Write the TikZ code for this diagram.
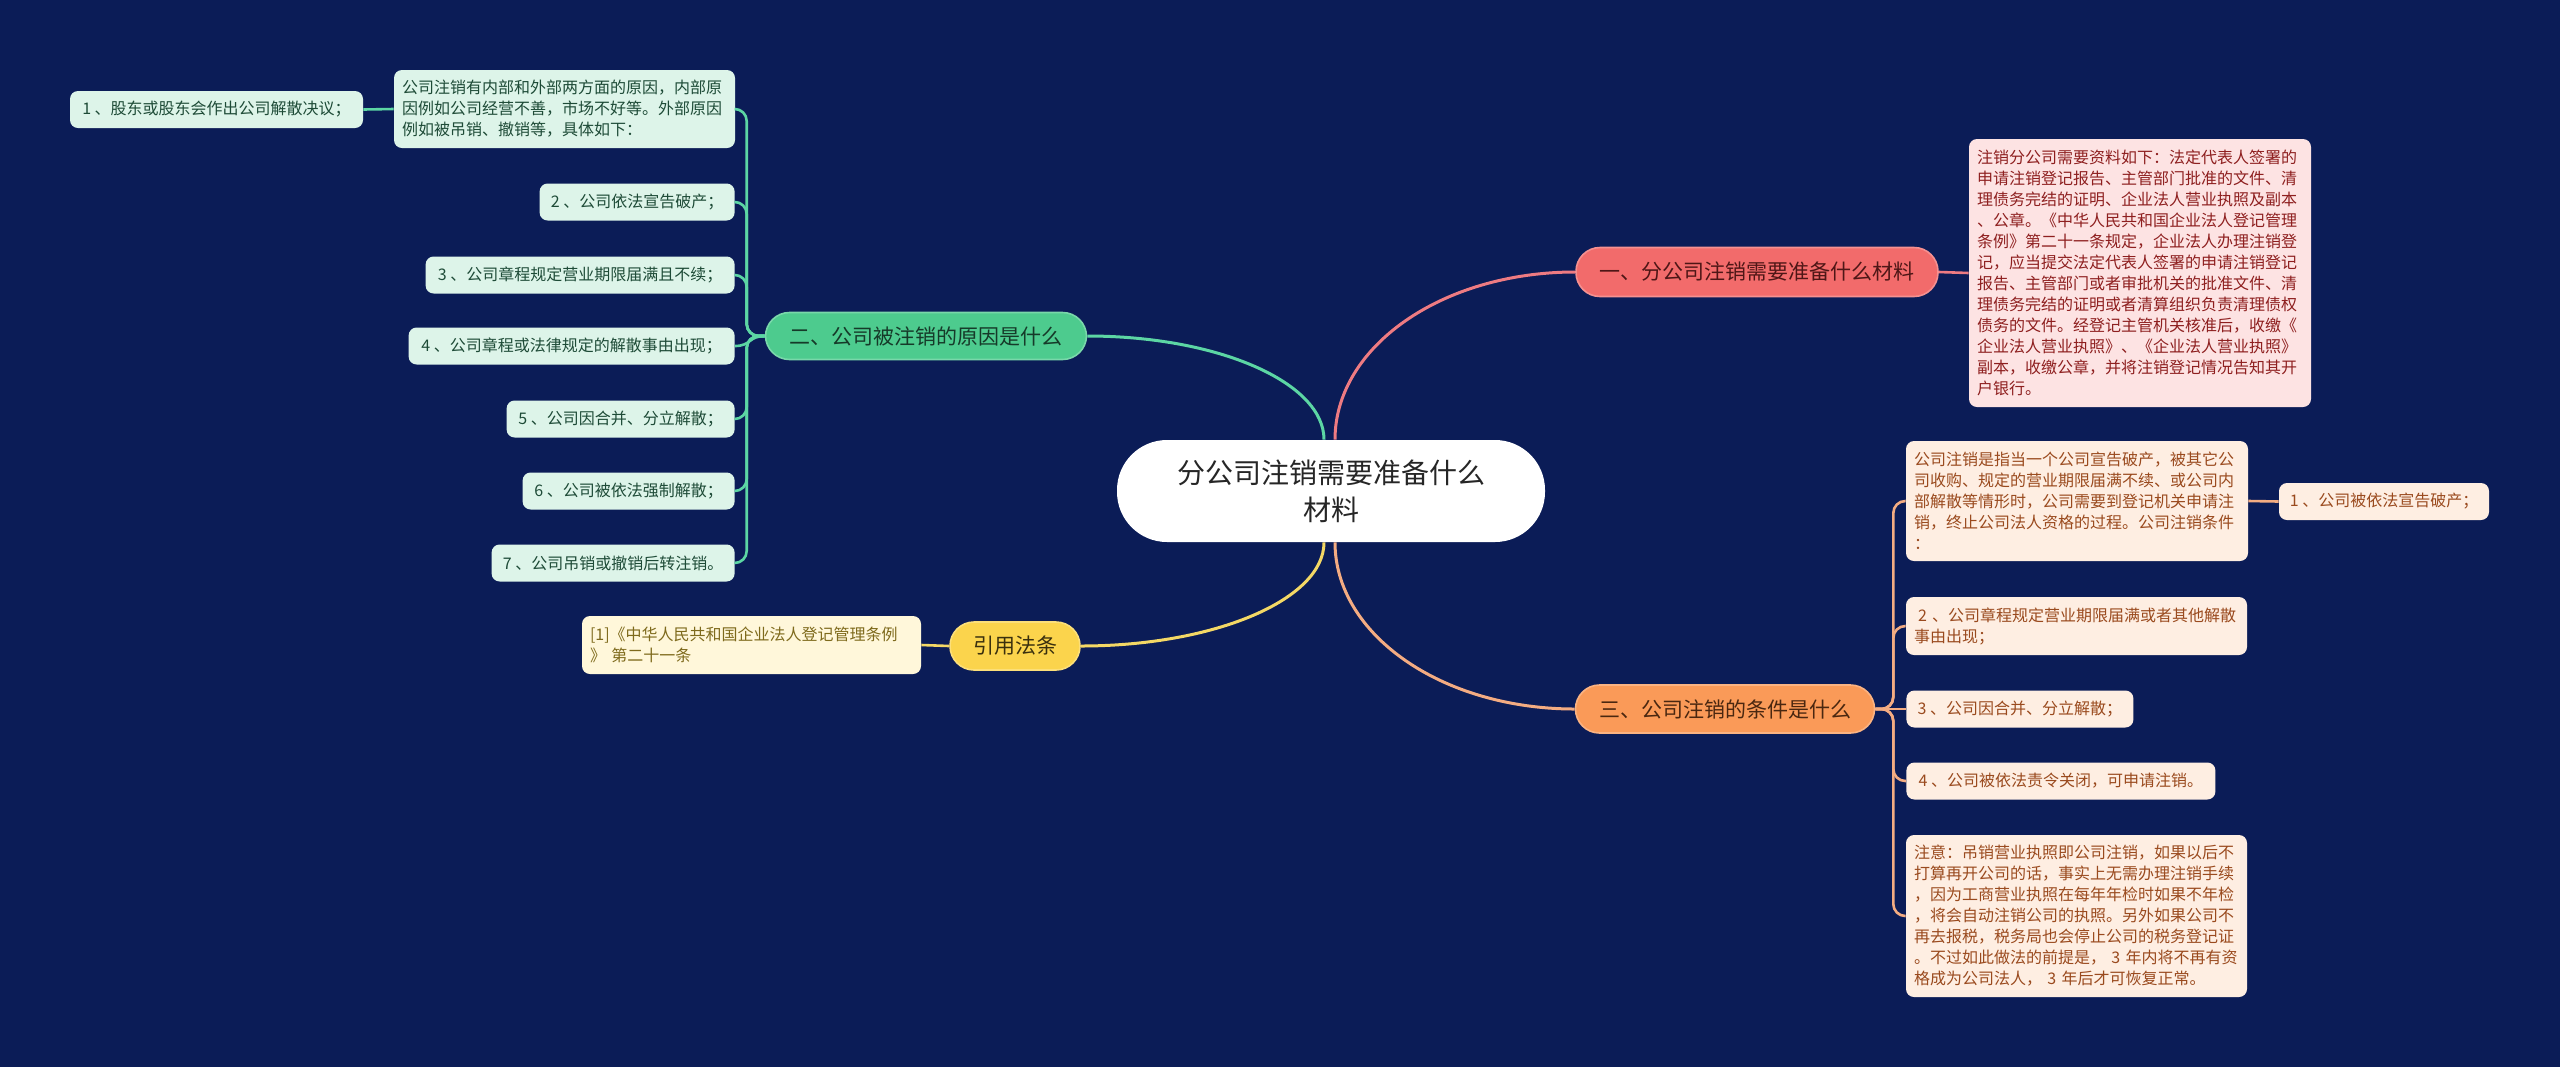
\documentclass[tikz,border=0pt]{standalone}
\usepackage{fontspec}
\setmainfont{Noto Sans CJK SC}
\usetikzlibrary{calc}
\definecolor{bg}{HTML}{0B1C57}
\definecolor{redfill}{HTML}{F26B6B}
\definecolor{redline}{HTML}{EE7B82}
\definecolor{redtext}{HTML}{4E1616}
\definecolor{redleaf}{HTML}{FDE3E3}
\definecolor{redleaftext}{HTML}{8E1F1F}
\definecolor{greenfill}{HTML}{4DCB8E}
\definecolor{greenline}{HTML}{5CD6A4}
\definecolor{greentext}{HTML}{163A29}
\definecolor{greenleaf}{HTML}{DDF4E9}
\definecolor{greenleaftext}{HTML}{1E4B37}
\definecolor{orfill}{HTML}{FA9A58}
\definecolor{orline}{HTML}{F4AC82}
\definecolor{ortext}{HTML}{4A2710}
\definecolor{orleaf}{HTML}{FEEEE2}
\definecolor{orleaftext}{HTML}{9A4A1E}
\definecolor{yfill}{HTML}{FBD44C}
\definecolor{yline}{HTML}{F4D865}
\definecolor{ytext}{HTML}{3A300E}
\definecolor{yleaf}{HTML}{FFF7DA}
\definecolor{yleaftext}{HTML}{7E6A1C}
\begin{document}
\begin{tikzpicture}[x=0.5pt,y=-0.5pt,
  branchbox/.style={rounded corners=12pt, inner sep=0pt, align=center, font=\fontsize{10.5}{13}\selectfont, line width=0.8pt},
  leafbox/.style={rounded corners=4pt, inner xsep=4pt, inner ysep=0pt, align=left, font=\fontsize{8}{10.5}\selectfont},
  oneline/.style={leafbox, align=center, minimum height=18.5pt},
  mainline/.style={line width=1.5pt},
  subline/.style={line width=1.3pt, rounded corners=6pt},
]
\fill[bg] (0,0) rectangle (2560,1067);
\useasboundingbox (0,0) rectangle (2560,1067);

% center
\node[fill=white, rounded corners=25pt, minimum width=214pt, minimum height=51pt, inner sep=0pt, align=center, font=\fontsize{14}{18.5}\selectfont, text=black!85] (c) at (1331,491) {分公司注销需要准备什么\\材料};

% branches
\node[branchbox, fill=redfill, draw=redfill!75!white, text=redtext, minimum width=181pt, minimum height=24.5pt] (b1) at (1757,272) {一、分公司注销需要准备什么材料};
\node[branchbox, fill=greenfill, draw=greenfill!75!white, text=greentext, minimum width=160.5pt, minimum height=23.5pt] (b2) at (926,336) {二、公司被注销的原因是什么};
\node[branchbox, fill=orfill, draw=orfill!75!white, text=ortext, minimum width=149.5pt, minimum height=24pt] (b3) at (1725,709) {三、公司注销的条件是什么};
\node[branchbox, fill=yfill, draw=yfill!75!white, text=ytext, minimum width=65pt, minimum height=24pt] (b4) at (1015,646) {引用法条};

% red leaf
\node[leafbox, fill=redleaf, text=redleaftext, text width=163pt, minimum height=134pt] (r1) at (2140,273) {注销分公司需要资料如下：法定代表人签署的\\申请注销登记报告、主管部门批准的文件、清\\理债务完结的证明、企业法人营业执照及副本\\、公章。《中华人民共和国企业法人登记管理\\条例》第二十一条规定，企业法人办理注销登\\记，应当提交法定代表人签署的申请注销登记\\报告、主管部门或者审批机关的批准文件、清\\理债务完结的证明或者清算组织负责清理债权\\债务的文件。经登记主管机关核准后，收缴《\\企业法人营业执照》、《企业法人营业执照》\\副本，收缴公章，并将注销登记情况告知其开\\户银行。};

% green leaves
\node[leafbox, fill=greenleaf, text=greenleaftext, text width=162.5pt, minimum height=39pt] (g0) at (564.5,109) {公司注销有内部和外部两方面的原因，内部原\\因例如公司经营不善，市场不好等。外部原因\\例如被吊销、撤销等，具体如下：};
\node[oneline, fill=greenleaf, text=greenleaftext, minimum width=146.5pt] (g1) at (216.5,109.5) {1 、股东或股东会作出公司解散决议；};
\node[oneline, fill=greenleaf, text=greenleaftext, minimum width=97.5pt, anchor=east] (g2) at (735,202) {2 、公司依法宣告破产；};
\node[oneline, fill=greenleaf, text=greenleaftext, minimum width=154.5pt, anchor=east] (g3) at (735,275) {3 、公司章程规定营业期限届满且不续；};
\node[oneline, fill=greenleaf, text=greenleaftext, minimum width=163pt, anchor=east] (g4) at (735,346) {4 、公司章程或法律规定的解散事由出现；};
\node[oneline, fill=greenleaf, text=greenleaftext, minimum width=114pt, anchor=east] (g5) at (735,419) {5 、公司因合并、分立解散；};
\node[oneline, fill=greenleaf, text=greenleaftext, minimum width=106pt, anchor=east] (g6) at (735,491) {6 、公司被依法强制解散；};
\node[oneline, fill=greenleaf, text=greenleaftext, minimum width=121.5pt, anchor=east] (g7) at (735,563) {7 、公司吊销或撤销后转注销。};

% orange leaves
\node[leafbox, fill=orleaf, text=orleaftext, text width=163pt, minimum height=60pt] (o0) at (2077,501) {公司注销是指当一个公司宣告破产，被其它公\\司收购、规定的营业期限届满不续、或公司内\\部解散等情形时，公司需要到登记机关申请注\\销，终止公司法人资格的过程。公司注销条件\\：};
\node[oneline, fill=orleaf, text=orleaftext, minimum width=105pt] (o1) at (2384,501.5) {1 、公司被依法宣告破产；};
\node[leafbox, fill=orleaf, text=orleaftext, text width=162.5pt, minimum height=29pt] (o2) at (2076.5,626) {\hspace{2pt}2 、公司章程规定营业期限届满或者其他解散\\事由出现；};
\node[oneline, fill=orleaf, text=orleaftext, minimum width=113.5pt, anchor=west] (o3) at (1906,709) {3 、公司因合并、分立解散；};
\node[oneline, fill=orleaf, text=orleaftext, minimum width=154.5pt, anchor=west] (o4) at (1906,781) {4 、公司被依法责令关闭，可申请注销。};
\node[leafbox, fill=orleaf, text=orleaftext, text width=162.5pt, minimum height=81pt] (o5) at (2076.5,916) {注意：吊销营业执照即公司注销，如果以后不\\打算再开公司的话，事实上无需办理注销手续\\，因为工商营业执照在每年年检时如果不年检\\，将会自动注销公司的执照。另外如果公司不\\再去报税，税务局也会停止公司的税务登记证\\。不过如此做法的前提是， 3 年内将不再有资\\格成为公司法人， 3 年后才可恢复正常。};

% yellow leaf
\node[leafbox, fill=yleaf, text=yleaftext, text width=161.5pt, minimum height=29pt] (y1) at (751.5,645) {[1]《中华人民共和国企业法人登记管理条例\\》 第二十一条};

% main connectors (quarter-ellipse arcs)
\draw[redline, mainline] ($(c.north)+(4,0)$) .. controls +(0,-93) and +(-133,0) .. (b1.west);
\draw[greenline, mainline] ($(c.north)+(-7,0)$) .. controls +(0,-57) and +(131,0) .. (b2.east);
\draw[yline, mainline] ($(c.south)+(-7,0)$) .. controls +(0,57) and +(134,0) .. (b4.east);
\draw[orline, mainline] ($(c.south)+(4,0)$) .. controls +(0,92) and +(-133,0) .. (b3.west);

% red / yellow leaf connectors
\draw[redline, line width=1.3pt] (b1.east) -- (r1.west);
\draw[yline, line width=1.3pt] (b4.west) -- (y1.east);

% green connectors
\coordinate (gt) at ($(b2.west)+(-18,0)$);
\foreach \n in {g0,g2,g3,g5,g6,g7}{
  \draw[greenline, subline] (b2.west) -- (gt) |- (\n.east);
}
\draw[greenline, line width=1.3pt] (b2.west) .. controls +(-16,0) and +(16,0) .. (g4.east);
\draw[greenline, line width=1.3pt] (g0.west) -- (g1.east);

% orange connectors
\coordinate (ot) at ($(b3.east)+(18,0)$);
\foreach \n in {o0,o2,o4,o5}{
  \draw[orline, subline] (b3.east) -- (ot) |- (\n.west);
}
\draw[orline, line width=1.3pt] (b3.east) -- (o3.west);
\draw[orline, line width=1.3pt] (o0.east) -- (o1.west);
\end{tikzpicture}
\end{document}
